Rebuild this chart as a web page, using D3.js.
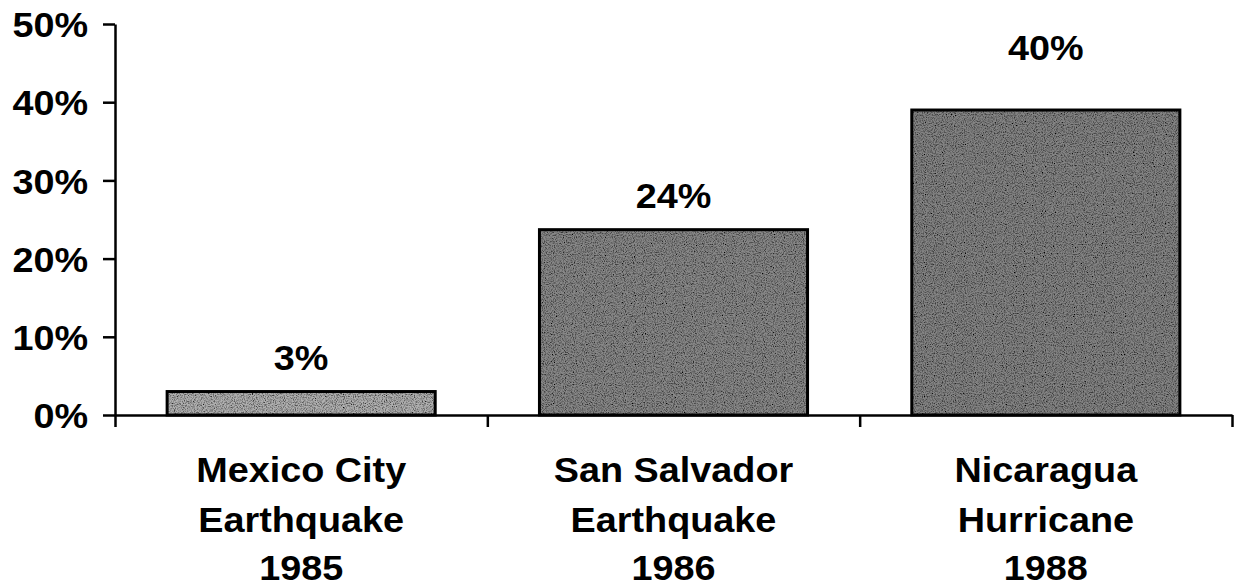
<!DOCTYPE html>
<html>
<head>
<meta charset="utf-8">
<script src="https://cdn.jsdelivr.net/npm/d3@7"></script>
<style>
  html, body { margin: 0; padding: 0; background: #fff; }
  svg { display: block; }
  text { font-family: "Liberation Sans", Arial, sans-serif; font-weight: bold; fill: #000; }
</style>
</head>
<body>
<svg id="chart" width="1236" height="587"></svg>
<script>
// ---- data ----
const categories = [
  ["Mexico City", "Earthquake", "1985"],
  ["San Salvador", "Earthquake", "1986"],
  ["Nicaragua", "Hurricane", "1988"]
];
const values = [3, 23.7, 39];
const valueLabels = ["3%", "24%", "40%"];
const yTicks = [0, 10, 20, 30, 40, 50];

// ---- layout ----
const x0 = 115, x1 = 1232, yTop = 24, yZero = 415;
const FS = 35, SX = 1.08;
const svg = d3.select("#chart");

const y = d3.scaleLinear().domain([0, 50]).range([yZero, yTop]);
const x = d3.scaleBand().domain(d3.range(categories.length)).range([x0, x1])
  .paddingInner(0.28).paddingOuter(0.14);
const xb = d3.scaleLinear().domain([0, categories.length]).range([x0, x1]);

// texture filter
const defs = svg.append("defs");
const f = defs.append("filter").attr("id", "grain").attr("x", 0).attr("y", 0).attr("width", 1).attr("height", 1);
f.append("feTurbulence").attr("type", "fractalNoise").attr("baseFrequency", 0.9).attr("numOctaves", 2).attr("seed", 3).attr("result", "n");
f.append("feColorMatrix").attr("in", "n").attr("type", "matrix")
  .attr("values", "0 0 0 0 0  0 0 0 0 0  0 0 0 0 0  0 0 0 -2.2 1.35").attr("result", "dots");
f.append("feComposite").attr("in", "dots").attr("in2", "SourceGraphic").attr("operator", "in").attr("result", "d2");
f.append("feMerge").selectAll("feMergeNode").data(["SourceGraphic", "d2"]).enter()
  .append("feMergeNode").attr("in", d => d);

// bars
const fills = ["#b0b0b0", "#888888", "#848484"];
svg.append("g").selectAll("rect").data(values).enter().append("rect")
  .attr("x", (d, i) => x(i))
  .attr("y", d => y(d))
  .attr("width", x.bandwidth())
  .attr("height", d => yZero - y(d))
  .attr("fill", (d, i) => fills[i])
  .attr("filter", "url(#grain)");
svg.append("g").selectAll("rect").data(values).enter().append("rect")
  .attr("x", (d, i) => x(i))
  .attr("y", d => y(d))
  .attr("width", x.bandwidth())
  .attr("height", d => yZero - y(d))
  .attr("fill", "none").attr("stroke", "#000").attr("stroke-width", 3);

// y axis
const gy = svg.append("g").attr("transform", `translate(${x0},0)`)
  .call(d3.axisLeft(y).tickValues(yTicks).tickSize(12).tickSizeOuter(0).tickFormat(d => d + "%"));
gy.select(".domain").attr("stroke-width", 2.5);
gy.selectAll(".tick line").attr("stroke-width", 2.5);
gy.selectAll(".tick text")
  .attr("font-size", FS).attr("font-family", null)
  .attr("x", -27 / SX).attr("dy", "0.36em")
  .attr("transform", `scale(${SX},1)`);

// x axis (band boundaries)
const gx = svg.append("g").attr("transform", `translate(0,${yZero})`)
  .call(d3.axisBottom(xb).tickValues(d3.range(categories.length + 1)).tickSize(12).tickSizeOuter(0).tickFormat(""));
gx.select(".domain").attr("stroke-width", 2.5);
gx.selectAll(".tick line").attr("stroke-width", 2.5);

// value labels
const extraLift = [0, 0, 28];
svg.append("g").selectAll("text").data(values).enter().append("text")
  .attr("text-anchor", "middle").attr("font-size", FS)
  .attr("transform", (d, i) => `translate(${x(i) + x.bandwidth() / 2},${y(d) - 22 - extraLift[i]}) scale(${SX},1)`)
  .text((d, i) => valueLabels[i]);

// category labels
const baselines = [482, 532, 580];
const cg = svg.append("g").selectAll("g").data(categories).enter().append("g");
cg.selectAll("text").data(d => d).enter().append("text")
  .attr("text-anchor", "middle").attr("font-size", FS)
  .attr("transform", function (d, j) {
    const i = categories.indexOf(d3.select(this.parentNode).datum());
    return `translate(${x(i) + x.bandwidth() / 2},${baselines[j]}) scale(${SX},1)`;
  })
  .text(d => d);
</script>
</body>
</html>
